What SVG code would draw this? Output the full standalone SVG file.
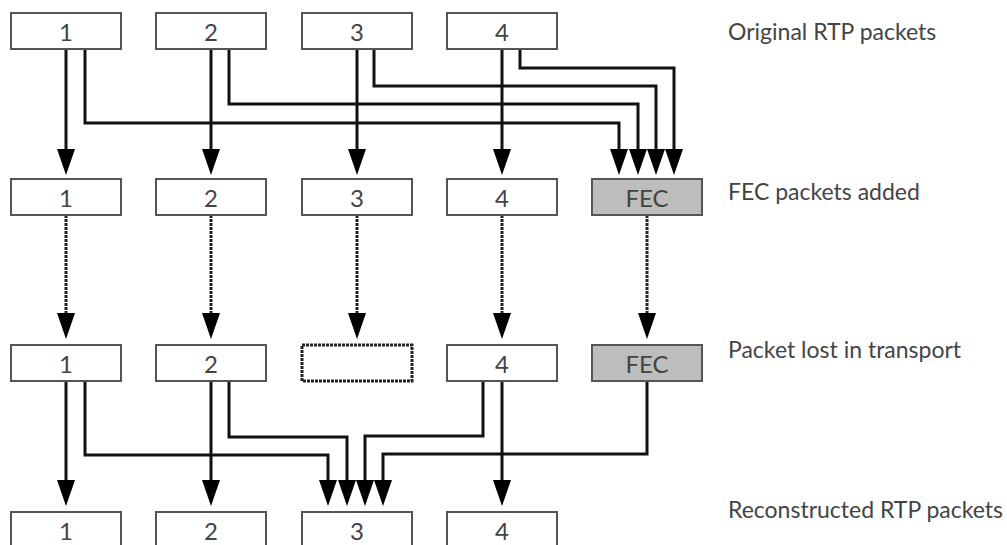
<svg xmlns="http://www.w3.org/2000/svg" width="1007" height="545" viewBox="0 0 1007 545">
<style>
.box{fill:#fff;stroke:#555;stroke-width:2}
.fec{fill:#bdbdbd;stroke:#555;stroke-width:2}
.lost{fill:#fff;stroke:#222;stroke-width:3;stroke-dasharray:3 1}
.num{font-family:Lato,"Liberation Sans",sans-serif;font-size:24px;fill:#444;text-anchor:middle}
.lbl{font-family:Lato,"Liberation Sans",sans-serif;font-size:23px;fill:#444}
.ln{fill:none;stroke:#111;stroke-width:3;marker-end:url(#ah)}
.dl{fill:none;stroke:#222;stroke-width:3;stroke-dasharray:3 1;marker-end:url(#ah)}
</style>
<defs>
<marker id="ah" viewBox="0 0 26 18" refX="12" refY="9" markerWidth="26" markerHeight="18" markerUnits="userSpaceOnUse" orient="auto">
<path d="M0,0 L26,9 L0,18 Z" fill="#000"/>
</marker>
</defs>
<rect width="1007" height="545" fill="#fff"/>
<g id="connectors">
<path class="ln" d="M66,49 V161"/>
<path class="ln" d="M211,49 V161"/>
<path class="ln" d="M357,49 V161"/>
<path class="ln" d="M502,49 V161"/>
<path class="ln" d="M85,49 V123 H619 V161"/>
<path class="ln" d="M229,49 V104 H638 V161"/>
<path class="ln" d="M374,49 V86 H656 V161"/>
<path class="ln" d="M520,49 V68 H674 V161"/>
<path class="dl" d="M66,215 V325"/>
<path class="dl" d="M211,215 V325"/>
<path class="dl" d="M357,215 V325"/>
<path class="dl" d="M502,215 V325"/>
<path class="dl" d="M647,215 V325"/>
<path class="ln" d="M66,381 V492"/>
<path class="ln" d="M211,381 V492"/>
<path class="ln" d="M502,381 V492"/>
<path class="ln" d="M85,381 V455 H328 V492"/>
<path class="ln" d="M229,381 V437 H347 V492"/>
<path class="ln" d="M483,381 V436 H365 V492"/>
<path class="ln" d="M647,381 V454 H383 V492"/>
</g>
<g id="r1-1"><rect class="box" x="11" y="13" width="110" height="36"/><text class="num" x="66" y="41">1</text></g>
<g id="r1-2"><rect class="box" x="156" y="13" width="110" height="36"/><text class="num" x="211" y="41">2</text></g>
<g id="r1-3"><rect class="box" x="302" y="13" width="110" height="36"/><text class="num" x="357" y="41">3</text></g>
<g id="r1-4"><rect class="box" x="447" y="13" width="110" height="36"/><text class="num" x="502" y="41">4</text></g>
<g id="r2-1"><rect class="box" x="11" y="179" width="110" height="36"/><text class="num" x="66" y="207">1</text></g>
<g id="r2-2"><rect class="box" x="156" y="179" width="110" height="36"/><text class="num" x="211" y="207">2</text></g>
<g id="r2-3"><rect class="box" x="302" y="179" width="110" height="36"/><text class="num" x="357" y="207">3</text></g>
<g id="r2-4"><rect class="box" x="447" y="179" width="110" height="36"/><text class="num" x="502" y="207">4</text></g>
<g id="r2-fec"><rect class="fec" x="592" y="179" width="110" height="36"/><text class="num" x="647" y="207">FEC</text></g>
<g id="r3-1"><rect class="box" x="11" y="345" width="110" height="36"/><text class="num" x="66" y="373">1</text></g>
<g id="r3-2"><rect class="box" x="156" y="345" width="110" height="36"/><text class="num" x="211" y="373">2</text></g>
<g id="r3-3"><rect class="lost" x="302" y="345" width="110" height="36"/></g>
<g id="r3-4"><rect class="box" x="447" y="345" width="110" height="36"/><text class="num" x="502" y="373">4</text></g>
<g id="r3-fec"><rect class="fec" x="592" y="345" width="110" height="36"/><text class="num" x="647" y="373">FEC</text></g>
<g id="r4-1"><rect class="box" x="11" y="512" width="110" height="36"/><text class="num" x="66" y="540">1</text></g>
<g id="r4-2"><rect class="box" x="156" y="512" width="110" height="36"/><text class="num" x="211" y="540">2</text></g>
<g id="r4-3"><rect class="box" x="302" y="512" width="110" height="36"/><text class="num" x="357" y="540">3</text></g>
<g id="r4-4"><rect class="box" x="447" y="512" width="110" height="36"/><text class="num" x="502" y="540">4</text></g>
<g id="labels">
<text class="lbl" x="728" y="40">Original RTP packets</text>
<text class="lbl" x="728" y="200">FEC packets added</text>
<text class="lbl" x="728" y="358">Packet lost in transport</text>
<text class="lbl" x="728" y="518">Reconstructed RTP packets</text>
</g>
</svg>
